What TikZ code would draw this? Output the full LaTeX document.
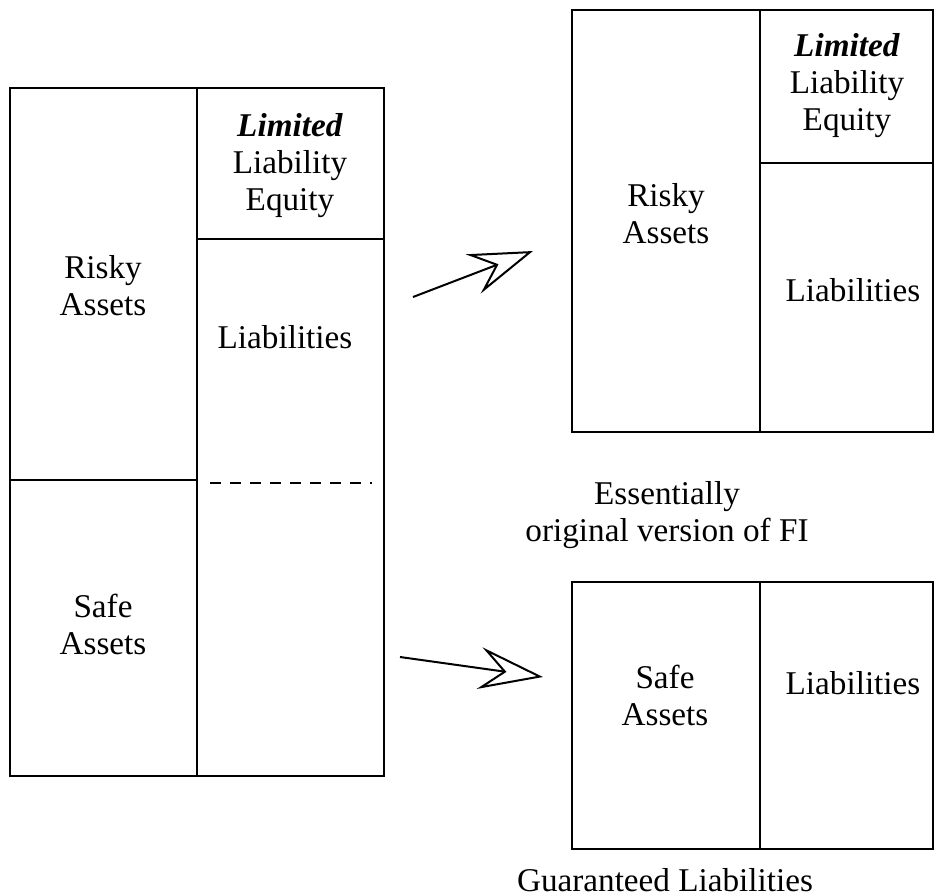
\documentclass[tikz,border=0pt]{standalone}
\usepackage{fontspec}
\setmainfont{Liberation Serif}
\usetikzlibrary{arrows.meta}
\tikzset{
  lbl/.style={align=center, font=\fontsize{16.6}{18.5}\selectfont},
  bigarrow/.style={line width=1pt, -{Stealth[open, length=32pt, width=21pt, inset=12pt]}}
}
\begin{document}
\begin{tikzpicture}[x=0.5pt, y=-0.5pt, line width=1pt]
\useasboundingbox (0,0) rectangle (934,896);
% original FI
\draw (10,88) rectangle (384,776);
\draw (197,88) -- (197,776);
\draw (197,239) -- (384,239);
\draw (10,480) -- (197,480);
\draw[dash pattern=on 5.5pt off 4.5pt] (210,483) -- (372,483);
\node[lbl] (lequity) at (290,166) {\textbf{\textit{Limited}}\\Liability\\Equity};
\node[lbl] (lrisky) at (103,286) {Risky\\Assets};
\node[lbl] (lliab) at (285,337) {Liabilities};
\node[lbl] (lsafe) at (103,624) {Safe\\Assets};
% risky part
\draw (572,10) rectangle (933,432);
\draw (760,10) -- (760,432);
\draw (760,163) -- (933,163);
\node[lbl] (requity) at (847,86) {\textbf{\textit{Limited}}\\Liability\\Equity};
\node[lbl] (rrisky) at (666,214) {Risky\\Assets};
\node[lbl] (rliab) at (853,290) {Liabilities};
\node[lbl] (rcap) at (667,515) {Essentially\\original version of FI};
% safe part
\draw (572,582) rectangle (933,849);
\draw (760,582) -- (760,849);
\node[lbl] (gsafe) at (665,695) {Safe\\Assets};
\node[lbl] (gliab) at (853,683) {Liabilities};
\node[lbl] (gcap) at (665,880) {Guaranteed Liabilities};
% arrows
\coordinate (a1s) at (413,297);
\coordinate (a1e) at (533,251);
\coordinate (a2s) at (400,657);
\coordinate (a2e) at (543,677);
\draw[bigarrow] (a1s) -- (a1e);
\draw[bigarrow] (a2s) -- (a2e);
\end{tikzpicture}
\end{document}
